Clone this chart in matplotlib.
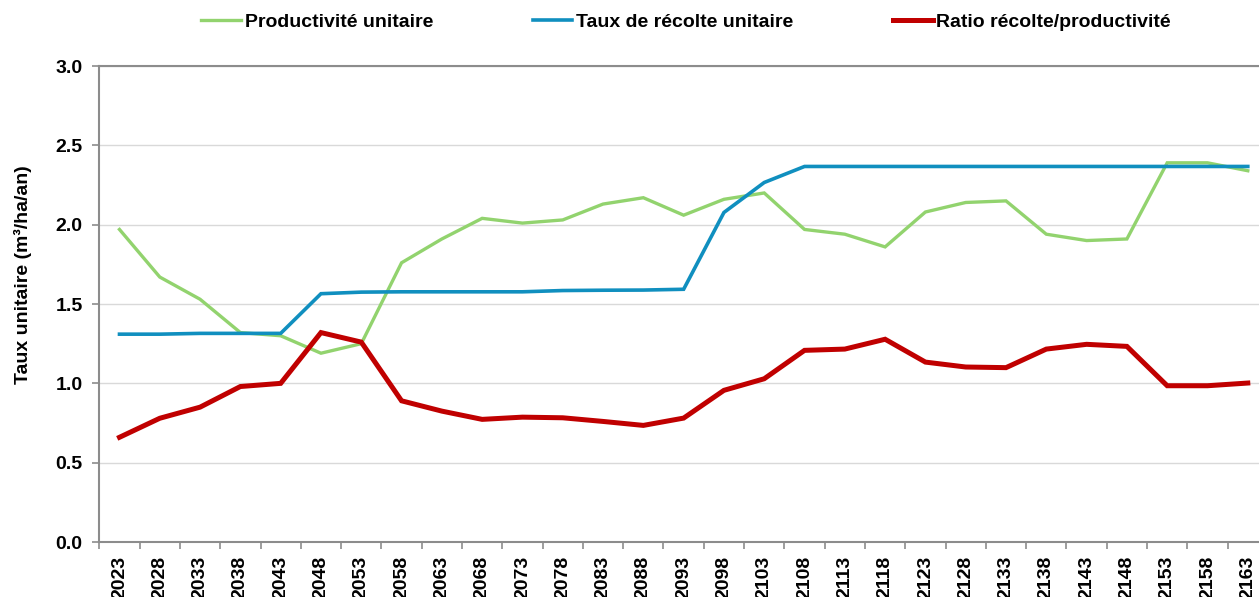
"""Taux unitaire: productivité, récolte et ratio récolte/productivité par période."""

import matplotlib

matplotlib.use("Agg")
import matplotlib.pyplot as plt
from matplotlib.ticker import FixedLocator, FormatStrFormatter, MultipleLocator

YEARS = list(range(2023, 2164, 5))

PRODUCTIVITE = [
    1.97, 1.67, 1.53, 1.32, 1.30, 1.19, 1.25, 1.76, 1.91, 2.04,
    2.01, 2.03, 2.13, 2.17, 2.06, 2.16, 2.20, 1.97, 1.94, 1.86,
    2.08, 2.14, 2.15, 1.94, 1.90, 1.91, 2.39, 2.39, 2.34,
]
RECOLTE = [
    1.31, 1.31, 1.315, 1.315, 1.315, 1.565, 1.575, 1.577, 1.577, 1.577,
    1.577, 1.585, 1.587, 1.588, 1.593, 2.077, 2.266, 2.367, 2.367, 2.367,
    2.367, 2.367, 2.367, 2.367, 2.367, 2.367, 2.367, 2.367, 2.367,
]
RATIO = [
    0.66, 0.78, 0.85, 0.98, 1.00, 1.32, 1.26, 0.89, 0.825, 0.773,
    0.787, 0.783, 0.76, 0.735, 0.781, 0.956, 1.029, 1.208, 1.216, 1.278,
    1.134, 1.103, 1.099, 1.216, 1.246, 1.233, 0.985, 0.985, 1.002,
]

SERIES = [
    ("Productivité unitaire", PRODUCTIVITE, "#92D36E", 2.4),
    ("Taux de récolte unitaire", RECOLTE, "#108FBF", 2.6),
    ("Ratio récolte/productivité", RATIO, "#C00000", 3.6),
]

FONT_SIZE = 14

plt.rcParams["font.family"] = ["Liberation Sans", "DejaVu Sans"]
plt.rcParams["font.weight"] = "bold"

fig = plt.figure(figsize=(12.59, 5.97), dpi=100)
ax = fig.add_axes([0.0789, 0.0921, 0.9282, 0.7973])

x = list(range(len(YEARS)))
handles = []
for label, values, color, width in SERIES:
    (line,) = ax.plot(x, values, color=color, linewidth=width, label=label,
                      solid_joinstyle="miter", zorder=3)
    handles.append(line)

ax.set_xlim(-0.5, len(YEARS) - 0.5)
ax.set_ylim(0.0, 3.0)
ax.yaxis.set_major_locator(MultipleLocator(0.5))
ax.yaxis.set_major_formatter(FormatStrFormatter("%.1f"))
ax.grid(axis="y", color="#D9D9D9", linewidth=1.0, zorder=0)
ax.set_axisbelow(True)

# category labels at the points, tick marks between the categories
ax.set_xticks(x)
ax.set_xticklabels([str(y) for y in YEARS], rotation=90, fontsize=FONT_SIZE,
                   fontweight="bold", va="top")
ax.xaxis.set_minor_locator(FixedLocator([i - 0.5 for i in range(len(YEARS) + 1)]))
ax.tick_params(axis="x", which="major", length=0, pad=10)
ax.tick_params(axis="x", which="minor", length=5, width=1.2, color="#8C8C8C")
ax.tick_params(axis="y", length=5, width=1.2, color="#8C8C8C", labelsize=FONT_SIZE, pad=7)

for side in ["left", "bottom", "top"]:
    ax.spines[side].set_color("#8C8C8C")
    ax.spines[side].set_linewidth(1.5)
ax.spines["right"].set_visible(False)

fig.text(0.018, 0.54, "Taux unitaire (m³/ha/an)", rotation=90, fontsize=FONT_SIZE,
         fontweight="bold", ha="center", va="center")

fig.legend(handles=handles, loc="center", bbox_to_anchor=(0.545, 0.963), ncol=3,
           frameon=False, fontsize=FONT_SIZE, handlelength=2.05, handletextpad=0.2,
           columnspacing=5.1, borderpad=0)

fig.savefig("out.png", dpi=100)
plt.close(fig)
